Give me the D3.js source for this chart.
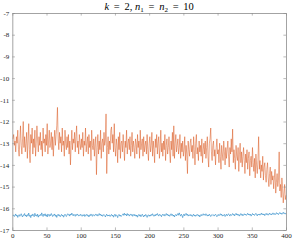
<!DOCTYPE html>
<html><head><meta charset="utf-8">
<script src="https://cdn.jsdelivr.net/npm/d3@7"></script>
<style>body{margin:0;background:#fff}svg{display:block}</style>
</head><body>
<script>
const orange = [
-12.8,-12.6,-13.1,-12.9,-13.4,-12.7,-13.0,-12.4,-13.3,-13.6,-12.9,-12.2,-13.1,-13.5,-12.8,-12.0,-13.2,-12.7,-13.4,-13.0,
-12.5,-13.7,-12.9,-12.1,-13.3,-13.9,-12.6,-13.0,-12.3,-13.5,-12.8,-13.2,-12.4,-13.6,-13.0,-12.2,-12.9,-13.4,-12.7,-13.1,
-12.5,-13.3,-12.9,-13.6,-12.3,-13.0,-12.8,-13.4,-12.6,-13.1,-12.1,-13.5,-12.9,-12.4,-13.2,-13.0,-12.5,-13.3,-12.7,-13.6,
-12.9,-12.4,-13.1,-12.6,-12.2,-11.35,-12.8,-13.3,-12.5,-13.0,-12.7,-13.4,-12.3,-13.1,-12.9,-13.6,-12.4,-13.0,-13.3,-12.7,
-13.2,-12.6,-13.5,-12.9,-14.0,-13.1,-12.4,-13.3,-12.8,-13.0,-12.5,-13.4,-12.7,-12.2,-13.2,-12.9,-13.5,-12.6,-13.0,-13.3,
-12.8,-13.2,-12.5,-13.6,-12.9,-13.1,-12.3,-13.4,-13.0,-12.7,-13.5,-12.6,-13.2,-12.9,-13.8,-12.4,-13.1,-13.3,-12.8,-13.6,
-13.0,-12.7,-14.45,-13.2,-12.6,-13.5,-12.9,-13.3,-12.4,-13.7,-13.0,-12.8,-13.4,-12.5,-13.1,-12.9,-11.65,-14.4,-13.2,-12.7,
-13.5,-12.9,-13.3,-12.4,-12.25,-13.0,-12.6,-13.4,-12.1,-13.2,-13.6,-12.8,-13.1,-13.9,-12.7,-13.3,-12.5,-13.7,-13.0,-12.9,
-13.4,-12.6,-13.1,-13.8,-12.9,-13.2,-12.4,-13.5,-13.0,-12.8,-13.3,-12.7,-13.6,-13.1,-12.5,-13.4,-12.9,-13.2,-13.7,-12.8,
-13.0,-13.5,-12.6,-13.2,-12.9,-13.7,-12.4,-13.3,-13.0,-12.8,-13.6,-12.7,-13.4,-13.1,-12.9,-13.5,-12.6,-13.3,-13.8,-13.0,
-12.7,-13.4,-13.1,-12.5,-13.6,-12.9,-13.3,-13.9,-12.8,-13.2,-12.6,-13.5,-13.0,-12.7,-13.7,-13.2,-12.4,-13.4,-13.0,-13.6,
-12.9,-13.3,-12.6,-13.8,-13.1,-12.8,-13.5,-13.2,-12.7,-13.4,-13.9,-12.9,-13.3,-12.5,-13.6,-12.2,-13.7,-13.0,-12.6,-13.4,
-13.1,-12.8,-13.5,-13.2,-12.6,-13.7,-13.0,-13.4,-12.9,-13.6,-13.3,-12.7,-13.8,-13.1,-13.5,-14.4,-12.9,-13.3,-13.6,-13.0,
-12.8,-13.4,-13.1,-13.7,-12.7,-13.3,-14.0,-13.0,-12.6,-13.5,-13.2,-13.8,-12.9,-13.4,-13.1,-13.6,-12.8,-13.9,-13.3,-13.0,
-13.5,-12.9,-13.7,-13.2,-12.7,-13.6,-14.1,-13.0,-12.8,-12.3,-13.4,-13.8,-13.1,-12.9,-13.6,-13.3,-14.0,-13.2,-12.8,-13.5,
-13.3,-13.9,-13.0,-13.6,-14.2,-13.1,-13.5,-13.8,-12.9,-13.4,-14.0,-13.2,-13.7,-13.3,-12.9,-13.6,-14.1,-13.2,-13.5,-12.8,
-13.4,-12.35,-13.9,-13.3,-13.7,-14.2,-13.1,-13.6,-13.8,-13.2,-14.3,-13.5,-13.0,-13.9,-13.4,-14.1,-13.6,-13.2,-13.8,-14.4,
-13.5,-13.9,-13.3,-14.2,-13.7,-13.4,-14.5,-13.8,-13.6,-14.1,-13.2,-13.9,-14.3,-13.7,-14.6,-13.5,-14.0,-14.4,-13.8,-12.7,
-14.2,-13.8,-14.6,-14.0,-14.3,-13.6,-14.7,-14.1,-13.9,-14.5,-14.8,-14.2,-13.9,-14.6,-15.0,-14.4,-14.1,-14.9,-14.3,-14.7,
-14.5,-15.1,-14.6,-14.2,-15.3,-14.8,-14.4,-15.0,-14.7,-13.4,-15.2,-14.9,-15.5,-14.6,-15.1,-15.75,-15.3,-14.9,-15.6,-15.4
];
const blue = [
-16.35,-16.30,-16.38,-16.33,-16.26,-16.36,-16.31,-16.42,-16.34,-16.29,-16.37,-16.32,-16.25,-16.35,-16.40,-16.30,-16.33,-16.24,-16.36,-16.31,
-16.39,-16.29,-16.34,-16.22,-16.37,-16.32,-16.43,-16.30,-16.35,-16.26,-16.33,-16.39,-16.23,-16.34,-16.30,-16.37,-16.27,-16.41,-16.32,-16.35,
-16.28,-16.34,-16.21,-16.31,-16.38,-16.27,-16.33,-16.25,-16.36,-16.30,-16.40,-16.26,-16.32,-16.37,-16.28,-16.34,-16.24,-16.31,-16.38,-16.30,
-16.33,-16.26,-16.37,-16.31,-16.42,-16.32,-16.27,-16.35,-16.30,-16.39,-16.33,-16.28,-16.36,-16.31,-16.41,-16.34,-16.27,-16.33,-16.38,-16.30,
-16.25,-16.32,-16.28,-16.36,-16.26,-16.31,-16.22,-16.30,-16.35,-16.27,-16.32,-16.37,-16.28,-16.33,-16.26,-16.31,-16.36,-16.30,-16.34,-16.27,
-16.32,-16.37,-16.30,-16.34,-16.28,-16.38,-16.31,-16.33,-16.27,-16.36,-16.32,-16.40,-16.30,-16.34,-16.26,-16.33,-16.37,-16.28,-16.32,-16.36,
-16.30,-16.26,-16.33,-16.28,-16.36,-16.31,-16.24,-16.32,-16.27,-16.35,-16.30,-16.37,-16.31,-16.28,-16.33,-16.40,-16.32,-16.27,-16.36,-16.31,
-16.35,-16.30,-16.38,-16.32,-16.28,-16.36,-16.31,-16.41,-16.33,-16.27,-16.37,-16.30,-16.34,-16.43,-16.32,-16.28,-16.36,-16.31,-16.38,-16.33,
-16.30,-16.25,-16.33,-16.23,-16.31,-16.27,-16.35,-16.24,-16.32,-16.28,-16.36,-16.30,-16.26,-16.33,-16.28,-16.37,-16.31,-16.27,-16.35,-16.30,
-16.37,-16.31,-16.41,-16.33,-16.28,-16.36,-16.30,-16.39,-16.32,-16.27,-16.35,-16.40,-16.31,-16.36,-16.28,-16.33,-16.42,-16.32,-16.30,-16.37,
-16.31,-16.36,-16.28,-16.33,-16.25,-16.32,-16.37,-16.30,-16.35,-16.27,-16.32,-16.24,-16.31,-16.36,-16.28,-16.33,-16.30,-16.39,-16.31,-16.27,
-16.33,-16.28,-16.36,-16.30,-16.24,-16.32,-16.27,-16.35,-16.30,-16.37,-16.31,-16.25,-16.33,-16.28,-16.36,-16.31,-16.40,-16.32,-16.28,-16.35,
-16.30,-16.24,-16.32,-16.21,-16.30,-16.36,-16.27,-16.33,-16.43,-16.31,-16.26,-16.35,-16.28,-16.23,-16.32,-16.27,-16.36,-16.30,-16.33,-16.28,
-16.35,-16.30,-16.38,-16.32,-16.27,-16.36,-16.31,-16.37,-16.30,-16.33,-16.28,-16.36,-16.31,-16.40,-16.33,-16.28,-16.35,-16.30,-16.25,-16.32,
-16.28,-16.33,-16.25,-16.31,-16.36,-16.30,-16.35,-16.27,-16.32,-16.38,-16.31,-16.28,-16.33,-16.30,-16.36,-16.31,-16.27,-16.33,-16.39,-16.32,
-16.28,-16.35,-16.30,-16.25,-16.32,-16.27,-16.36,-16.31,-16.33,-16.28,-16.38,-16.32,-16.27,-16.35,-16.30,-16.25,-16.31,-16.36,-16.28,-16.33,
-16.30,-16.24,-16.32,-16.27,-16.35,-16.28,-16.23,-16.31,-16.26,-16.33,-16.28,-16.36,-16.30,-16.24,-16.32,-16.27,-16.35,-16.30,-16.25,-16.31,
-16.27,-16.33,-16.28,-16.23,-16.31,-16.26,-16.32,-16.27,-16.36,-16.30,-16.24,-16.31,-16.27,-16.33,-16.28,-16.23,-16.30,-16.35,-16.27,-16.31,
-16.26,-16.32,-16.27,-16.22,-16.30,-16.25,-16.31,-16.26,-16.34,-16.27,-16.23,-16.30,-16.25,-16.32,-16.27,-16.22,-16.29,-16.25,-16.31,-16.26,
-16.21,-16.28,-16.24,-16.30,-16.25,-16.20,-16.27,-16.23,-16.29,-16.24,-16.19,-16.26,-16.22,-16.28,-16.23,-16.18,-16.25,-16.21,-16.27,-16.22
];
const xTicks = [0,50,100,150,200,250,300,350,400];
const yTicks = [-7,-8,-9,-10,-11,-12,-13,-14,-15,-16,-17];

const W = 293, H = 240;
const L = 12.3, R = 286, T = 13, B = 230;
const svg = d3.select("body").append("svg").attr("width", W).attr("height", H);
const x = d3.scaleLinear().domain([0,400]).range([L,R]);
const y = d3.scaleLinear().domain([-17,-7]).range([B,T]);

const line = d3.line().x((d,i)=>x(i+1)).y(d=>y(d));
svg.append("path").datum(blue).attr("d", line).attr("fill","none").attr("stroke","#0072BD").attr("stroke-width",0.5);
svg.append("path").datum(orange).attr("d", line).attr("fill","none").attr("stroke","#D95319").attr("stroke-width",0.5);

const axCol = "#8c8c8c", txtCol = "#262626";
const font = "'Liberation Serif', 'DejaVu Serif', serif";
const tl = 2.6;
const gB = svg.append("g").attr("transform",`translate(0,${B})`)
  .call(d3.axisBottom(x).tickValues(xTicks).tickSizeInner(-tl).tickSizeOuter(0).tickPadding(3.5));
const gT = svg.append("g").attr("transform",`translate(0,${T})`)
  .call(d3.axisTop(x).tickValues(xTicks).tickSizeInner(-tl).tickSizeOuter(0).tickFormat(""));
const gL = svg.append("g").attr("transform",`translate(${L},0)`)
  .call(d3.axisLeft(y).tickValues(yTicks).tickSizeInner(-tl).tickSizeOuter(0).tickPadding(3).tickFormat(d3.format("d")));
const gR = svg.append("g").attr("transform",`translate(${R},0)`)
  .call(d3.axisRight(y).tickValues(yTicks).tickSizeInner(-tl).tickSizeOuter(0).tickFormat(""));
[gB,gT,gL,gR].forEach(g=>{
  g.selectAll(".domain").attr("stroke",axCol).attr("stroke-width",0.8);
  g.selectAll(".tick line").attr("stroke",axCol).attr("stroke-width",0.6);
  g.selectAll(".tick text").attr("fill",txtCol).style("font-family",font).style("font-size","7px");
});
gL.selectAll(".tick text").text(d=>String(d));

const title = svg.append("text").attr("x",(L+R)/2).attr("y",9.5).attr("text-anchor","middle")
  .style("font-family",font).style("font-size","10.5px").attr("fill","#000");
const eq = "\u2009=\u2009";
title.append("tspan").attr("font-style","italic").text("k");
title.append("tspan").text(" " + eq + " 2, ");
title.append("tspan").attr("font-style","italic").text("n");
title.append("tspan").attr("dy",2).style("font-size","7px").text("1");
title.append("tspan").attr("dy",-2).text(" " + eq + " ");
title.append("tspan").attr("font-style","italic").text("n");
title.append("tspan").attr("dy",2).style("font-size","7px").text("2");
title.append("tspan").attr("dy",-2).text(" " + eq + " 10");
</script>
</body></html>
